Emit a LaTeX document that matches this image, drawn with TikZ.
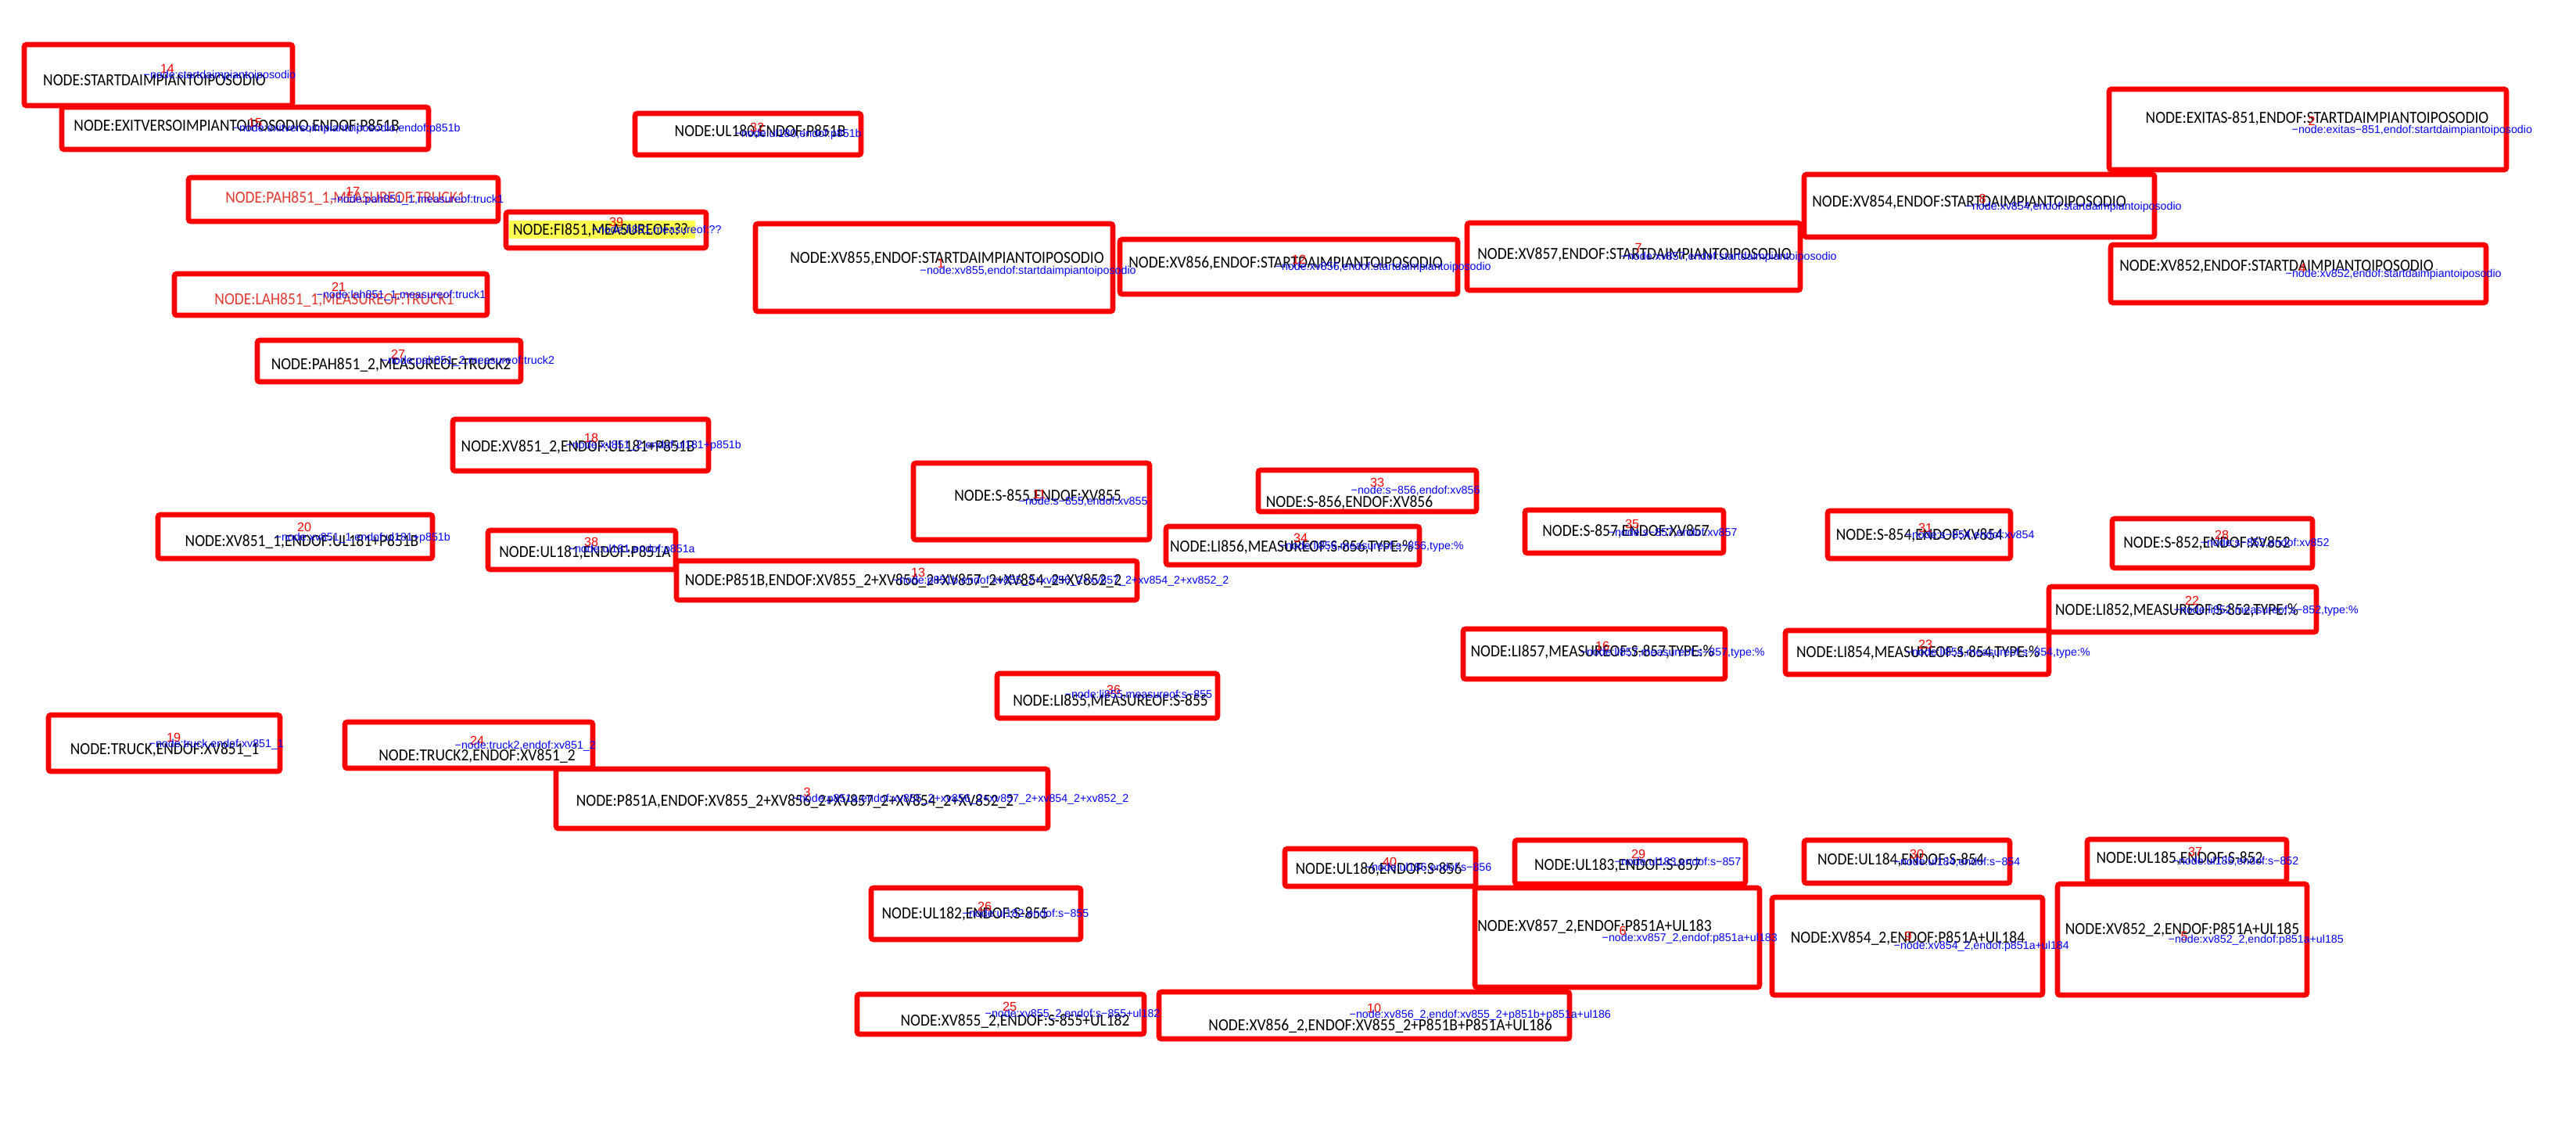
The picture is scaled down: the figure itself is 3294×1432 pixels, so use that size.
\documentclass[tikz,border=0pt]{standalone}
\usepackage{fontspec}
\setmainfont[FakeStretch=0.9]{Carlito}
\newfontfamily\bluefont{Liberation Sans}
\usetikzlibrary{fit}
\definecolor{boxred}{RGB}{255,0,0}
\definecolor{txtred}{RGB}{226,58,50}
\definecolor{hlyellow}{RGB}{255,255,80}
\definecolor{lblblue}{RGB}{0,0,255}
\tikzset{
  bx/.style={draw=boxred, line width=0.066cm, rounded corners=0.03cm, inner sep=0pt},
  txt/.style={inner sep=0pt, anchor=base, text=black, font=\fontsize{6.15pt}{7pt}\selectfont},
  redtxt/.style={text=txtred},
  numlbl/.style={inner sep=0pt, anchor=base, text=red, font=\bluefont\fontsize{4.6pt}{5pt}\selectfont},
  blulbl/.style={inner sep=0pt, anchor=mid west, text=lblblue, font=\bluefont\fontsize{4.05pt}{5pt}\selectfont},
  hl/.style={fill=hlyellow, inner sep=0pt}
}
\newcommand\Bx[5]{\node[bx, fit={(#2,#3)(#4,#5)}] (#1) {};}
\newcommand\Tx[5][]{\node[txt,#1] (#2-t) at (#3,{#4+7}) {#5};}
\newcommand\Nm[4]{\node[numlbl] (#1-n) at (#2,{#3+5.5}) {#4};}
\newcommand\Bl[4]{\node[blulbl] (#1-b) at (#2,#3) {#4};}
\begin{document}
\begin{tikzpicture}[x=0.01cm,y=-0.01cm]
\fill[white] (0,0) rectangle (3294,1432);
\useasboundingbox (0,0) rectangle (3294,1432);
% boxes
\Bx{A}{31}{57}{374}{135}
\Bx{B}{79}{137}{548}{191}
\Bx{C}{241}{227}{637}{283}
\Bx{D}{647}{271}{903}{317}
\Bx{E}{812}{145}{1101}{198}
\Bx{F}{223}{350}{623}{403}
\Bx{G}{329}{435}{666}{488}
\Bx{H}{966}{286}{1423}{398}
\Bx{I}{1432}{306}{1864}{376}
\Bx{J}{1876}{285}{2302}{371}
\Bx{K}{2307}{223}{2755}{303}
\Bx{L}{2697}{114}{3205}{217}
\Bx{M}{2699}{313}{3179}{387}
\Bx{N}{579}{536}{906}{602}
\Bx{O}{1168}{592}{1470}{690}
\Bx{P}{624}{678}{864}{728}
\Bx{Q}{865}{717}{1454}{767}
\Bx{R}{1609}{601}{1888}{654}
\Bx{S}{1491}{673}{1815}{722}
\Bx{T}{1950}{652}{2204}{707}
\Bx{U}{1871}{804}{2206}{868}
\Bx{V}{2337}{653}{2571}{714}
\Bx{W}{2701}{663}{2957}{726}
\Bx{X}{2620}{750}{2962}{808}
\Bx{Y}{2283}{806}{2620}{862}
\Bx{Z}{1275}{861}{1557}{918}
\Bx{AA}{62}{914}{358}{986}
\Bx{AB}{441}{923}{758}{982}
\Bx{AC}{711}{983}{1340}{1059}
\Bx{AD}{1114}{1135}{1382}{1201}
\Bx{AE}{1643}{1085}{1887}{1133}
\Bx{AF}{1096}{1271}{1463}{1322}
\Bx{AG}{1482}{1268}{2007}{1328}
\Bx{AH}{1937}{1074}{2232}{1130}
\Bx{AI}{2307}{1074}{2570}{1129}
\Bx{AJ}{2669}{1073}{2924}{1127}
\Bx{AK}{1886}{1135}{2250}{1262}
\Bx{AL}{2266}{1147}{2612}{1272}
\Bx{AM}{2631}{1130}{2950}{1272}
\Bx{AN}{202}{658}{553}{714}
% highlight
\node[hl, fit={(651,282)(889,305)}] (D-h) {};
% texts
\Tx{A}{197.5}{102}{NODE:STARTDAIMPIANTOIPOSODIO}
\Tx{B}{302.5}{160}{NODE:EXITVERSOIMPIANTOIPOSODIO,ENDOF:P851B}
\Tx[redtxt]{C}{441.5}{252}{NODE:PAH851\_1,MEASUREOF:TRUCK1}
\Tx{D}{768}{293}{NODE:FI851,MEASUREOF:??}
\Tx{E}{972}{167}{NODE:UL180,ENDOF:P851B}
\Tx[redtxt]{F}{427.5}{382}{NODE:LAH851\_1,MEASUREOF:TRUCK1}
\Tx{G}{500}{465}{NODE:PAH851\_2,MEASUREOF:TRUCK2}
\Tx{H}{1211}{329}{NODE:XV855,ENDOF:STARTDAIMPIANTOIPOSODIO}
\Tx{I}{1644}{335}{NODE:XV856,ENDOF:STARTDAIMPIANTOIPOSODIO}
\Tx{J}{2090}{324}{NODE:XV857,ENDOF:STARTDAIMPIANTOIPOSODIO}
\Tx{K}{2518}{257}{NODE:XV854,ENDOF:STARTDAIMPIANTOIPOSODIO}
\Tx{L}{2963}{150}{NODE:EXITAS-851,ENDOF:STARTDAIMPIANTOIPOSODIO}
\Tx{M}{2911}{339}{NODE:XV852,ENDOF:STARTDAIMPIANTOIPOSODIO}
\Tx{N}{739}{570}{NODE:XV851\_2,ENDOF:UL181+P851B}
\Tx{O}{1327}{633}{NODE:S-855,ENDOF:XV855}
\Tx{P}{748}{705}{NODE:UL181,ENDOF:P851A}
\Tx{Q}{1155}{741}{NODE:P851B,ENDOF:XV855\_2+XV856\_2+XV857\_2+XV854\_2+XV852\_2}
\Tx{R}{1725.5}{641}{NODE:S-856,ENDOF:XV856}
\Tx{S}{1651.5}{698}{NODE:LI856,MEASUREOF:S-856,TYPE:\%}
\Tx{T}{2079}{678}{NODE:S-857,ENDOF:XV857}
\Tx{U}{2036}{832}{NODE:LI857,MEASUREOF:S-857,TYPE:\%}
\Tx{V}{2454.5}{683}{NODE:S-854,ENDOF:XV854}
\Tx{W}{2822}{693}{NODE:S-852,ENDOF:XV852}
\Tx{X}{2783.5}{779}{NODE:LI852,MEASUREOF:S-852,TYPE:\%}
\Tx{Y}{2452.5}{833}{NODE:LI854,MEASUREOF:S-854,TYPE:\%}
\Tx{Z}{1420}{895}{NODE:LI855,MEASUREOF:S-855}
\Tx{AA}{210.5}{957}{NODE:TRUCK,ENDOF:XV851\_1}
\Tx{AB}{610}{965}{NODE:TRUCK2,ENDOF:XV851\_2}
\Tx{AC}{1016.5}{1023}{NODE:P851A,ENDOF:XV855\_2+XV856\_2+XV857\_2+XV854\_2+XV852\_2}
\Tx{AD}{1234}{1167}{NODE:UL182,ENDOF:S-855}
\Tx{AE}{1763}{1110}{NODE:UL186,ENDOF:S-856}
\Tx{AF}{1298}{1304}{NODE:XV855\_2,ENDOF:S-855+UL182}
\Tx{AG}{1765}{1310}{NODE:XV856\_2,ENDOF:XV855\_2+P851B+P851A+UL186}
\Tx{AH}{2068.5}{1105}{NODE:UL183,ENDOF:S-857}
\Tx{AI}{2430.5}{1098}{NODE:UL184,ENDOF:S-854}
\Tx{AJ}{2787}{1096}{NODE:UL185,ENDOF:S-852}
\Tx{AK}{2039}{1183}{NODE:XV857\_2,ENDOF:P851A+UL183}
\Tx{AL}{2439.5}{1198}{NODE:XV854\_2,ENDOF:P851A+UL184}
\Tx{AM}{2790.5}{1187}{NODE:XV852\_2,ENDOF:P851A+UL185}
\Tx{AN}{386}{691}{NODE:XV851\_1,ENDOF:UL181+P851B}
% numbers
\Nm{A}{214}{88}{14}
\Nm{B}{326}{157}{15}
\Nm{C}{451}{245}{17}
\Nm{D}{788}{284}{39}
\Nm{E}{968}{163}{32}
\Nm{F}{433}{367}{21}
\Nm{G}{509}{453}{27}
\Nm{H}{1203}{337}{1}
\Nm{I}{1661}{332}{12}
\Nm{J}{2095}{317}{7}
\Nm{K}{2535}{254}{8}
\Nm{L}{2956}{155}{2}
\Nm{M}{2944}{343}{4}
\Nm{N}{756}{560}{18}
\Nm{O}{1329}{632}{11}
\Nm{P}{756}{693}{38}
\Nm{Q}{1174}{732}{13}
\Nm{R}{1761}{617}{33}
\Nm{S}{1663}{688}{34}
\Nm{T}{2087}{670}{35}
\Nm{U}{2049}{826}{16}
\Nm{V}{2462}{675}{31}
\Nm{W}{2841}{684}{28}
\Nm{X}{2803}{768}{22}
\Nm{Y}{2462}{824}{23}
\Nm{Z}{1424}{882}{36}
\Nm{AA}{222}{943}{19}
\Nm{AB}{610}{947}{24}
\Nm{AC}{1032}{1013}{3}
\Nm{AD}{1259}{1159}{26}
\Nm{AE}{1777}{1102}{40}
\Nm{AF}{1291}{1287}{25}
\Nm{AG}{1757}{1289}{10}
\Nm{AH}{2095}{1092}{29}
\Nm{AI}{2451}{1092}{30}
\Nm{AJ}{2807}{1089}{37}
\Nm{AK}{2075}{1190}{6}
\Nm{AL}{2440}{1197}{9}
\Nm{AM}{2793}{1197}{5}
\Nm{AN}{389}{674}{20}
% blue labels
\Bl{A}{183}{92}{−node:startdaimpiantoiposodio}
\Bl{B}{297}{160}{−node:exitversoimpiantoiposodio,endof:p851b}
\Bl{C}{422}{251}{−node:pah851\_1,measureof:truck1}
\Bl{D}{756}{290}{−node:fi851,measureof:??}
\Bl{E}{939}{167}{−node:ul180,endof:p851b}
\Bl{F}{404}{373}{−node:lah851\_1,measureof:truck1}
\Bl{G}{487}{457}{−node:pah851\_2,measureof:truck2}
\Bl{H}{1176}{342}{−node:xv855,endof:startdaimpiantoiposodio}
\Bl{I}{1630}{337}{−node:xv856,endof:startdaimpiantoiposodio}
\Bl{J}{2072}{324}{−node:xv857,endof:startdaimpiantoiposodio}
\Bl{K}{2513}{260}{−node:xv854,endof:startdaimpiantoiposodio}
\Bl{L}{2930}{162}{−node:exitas−851,endof:startdaimpiantoiposodio}
\Bl{M}{2922}{346}{−node:xv852,endof:startdaimpiantoiposodio}
\Bl{N}{723}{565}{−node:xv851\_2,endof:ul181+p851b}
\Bl{O}{1302}{637}{−node:s−855,endof:xv855}
\Bl{P}{726}{698}{−node:ul181,endof:p851a}
\Bl{Q}{1141}{738}{−node:p851b,endof:xv855\_2+xv856\_2+xv857\_2+xv854\_2+xv852\_2}
\Bl{R}{1727}{623}{−node:s−856,endof:xv856}
\Bl{S}{1635}{694}{−node:li856,measureof:s−856,type:\%}
\Bl{T}{2056}{677}{−node:s−857,endof:xv857}
\Bl{U}{2020}{830}{−node:li857,measureof:s−857,type:\%}
\Bl{V}{2436}{680}{−node:s−854,endof:xv854}
\Bl{W}{2813}{690}{−node:s−852,endof:xv852}
\Bl{X}{2779}{776}{−node:li852,measureof:s−852,type:\%}
\Bl{Y}{2436}{830}{−node:li854,measureof:s−854,type:\%}
\Bl{Z}{1361}{884}{−node:li855,measureof:s−855}
\Bl{AA}{190}{947}{−node:truck,endof:xv851\_1}
\Bl{AB}{581}{949}{−node:truck2,endof:xv851\_2}
\Bl{AC}{1013}{1017}{−node:p851a,endof:xv855\_2+xv856\_2+xv857\_2+xv854\_2+xv852\_2}
\Bl{AD}{1230}{1164}{−node:ul182,endof:s−855}
\Bl{AE}{1745}{1105}{−node:ul186,endof:s−856}
\Bl{AF}{1259}{1292}{−node:xv855\_2,endof:s−855+ul182}
\Bl{AG}{1725}{1293}{−node:xv856\_2,endof:xv855\_2+p851b+p851a+ul186}
\Bl{AH}{2064}{1098}{−node:ul183,endof:s−857}
\Bl{AI}{2421}{1098}{−node:ul184,endof:s−854}
\Bl{AJ}{2777}{1097}{−node:ul185,endof:s−852}
\Bl{AK}{2048}{1195}{−node:xv857\_2,endof:p851a+ul183}
\Bl{AL}{2421}{1205}{−node:xv854\_2,endof:p851a+ul184}
\Bl{AM}{2772}{1197}{−node:xv852\_2,endof:p851a+ul185}
\Bl{AN}{351}{683}{−node:xv851\_1,endof:ul181+p851b}
\end{tikzpicture}
\end{document}
